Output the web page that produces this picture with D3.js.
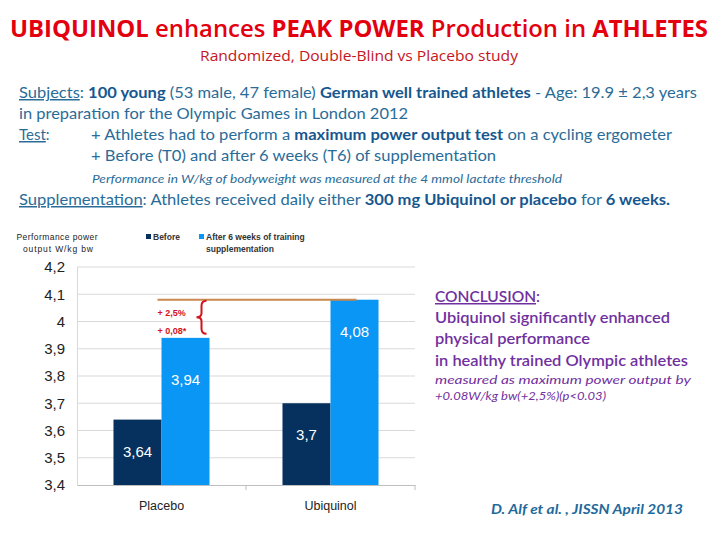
<!DOCTYPE html>
<html><head><meta charset="utf-8">
<script src="https://cdn.jsdelivr.net/npm/d3@7"></script>
<style>
html,body{margin:0;padding:0;background:#fff;}
svg{display:block;}
</style></head>
<body>
<svg id="c" width="720" height="540"></svg>
<script>
const categories = ["Placebo", "Ubiquinol"];
const seriesNames = ["Before", "After 6 weeks of training supplementation"];
const beforeValues = [3.64, 3.70];
const afterValues = [3.94, 4.08];
const valueLabels = [["3,64", "3,94"], ["3,7", "4,08"]];
const yTicks = [3.4, 3.5, 3.6, 3.7, 3.8, 3.9, 4.0, 4.1, 4.2];
const yTickLabels = ["3,4", "3,5", "3,6", "3,7", "3,8", "3,9", "4", "4,1", "4,2"];
const diffLabels = ["+ 2,5%", "+ 0,08*"];

const svg = d3.select("#c");
const body = "'Lato','Open Sans',sans-serif";
const blue = "#2a6c98", blueB = "#16578f";

function line(x, y, parts, opts) {
  const t = svg.append("text").attr("x", x).attr("y", y)
    .attr("font-family", opts.font || body).attr("font-size", opts.size)
    .attr("fill", opts.fill || blue);
  if (opts.len) t.attr("textLength", opts.len).attr("lengthAdjust", "spacingAndGlyphs");
  if (opts.anchor) t.attr("text-anchor", opts.anchor);
  if (opts.italic) t.attr("font-style", "italic");
  if (opts.weight) t.attr("font-weight", opts.weight);
  parts.forEach(p => {
    const s = t.append("tspan").text(p[0]);
    if (p[1] && p[1].b) s.attr("font-weight", "bold");
    if (p[1] && p[1].u) s.attr("text-decoration", "underline");
    if (p[1] && p[1].fill) s.attr("fill", p[1].fill);
  });
  return t;
}

// Title
line(10, 37, [["UBIQUINOL ", {b:1}], ["enhances "], ["PEAK POWER ", {b:1}], ["Production in "], ["ATHLETES", {b:1}]],
  {size: 24, fill: "#e3000f", len: 698, font: "'Open Sans',sans-serif", weight: 600});
line(200, 61, [["Randomized, Double-Blind vs Placebo study"]], {size: 15, fill: "#c4161c", len: 318, font: "'Open Sans',sans-serif"});

// Body text
line(19, 98, [["Subjects", {u:1}], [": "], ["100 young", {b:1, fill: blueB}], [" (53 male, 47 female) "], ["German well trained athletes", {b:1, fill: blueB}], [" - Age: 19.9 ± 2,3 years"]], {size: 15, len: 678});
line(19, 119, [["in preparation for the Olympic Games in London 2012"]], {size: 15, len: 389});
line(19, 140, [["Test", {u:1}], [":"]], {size: 15});
line(91, 140, [["+ Athletes had to perform a "], ["maximum power output test", {b:1, fill: blueB}], [" on a cycling ergometer"]], {size: 15, len: 581});
line(91, 161, [["+ Before (T0) and after 6 weeks (T6) of supplementation"]], {size: 15, len: 405});
line(92, 183, [["Performance in W/kg of bodyweight was measured at the 4 mmol lactate threshold"]], {size: 12, len: 470, italic: 1});
line(19, 205, [["Supplementation", {u:1}], [": Athletes received daily either "], ["300 mg Ubiquinol or placebo", {b:1, fill: blueB}], [" for "], ["6 weeks.", {b:1, fill: blueB}]], {size: 15, len: 651});

// Chart
const margin = {left: 77, right: 415, top: 267, bottom: 485};
const y = d3.scaleLinear().domain([3.4, 4.2]).range([margin.bottom, margin.top]);
const x0 = d3.scaleBand().domain(categories).range([margin.left, margin.right]).paddingInner(0).paddingOuter(0);
const x1 = d3.scaleBand().domain([0, 1]).range([0, x0.bandwidth()]).paddingOuter(0.76).paddingInner(0);

const chart = svg.append("g");
// gridlines
chart.append("g").selectAll("line").data(yTicks.slice(1)).join("line")
  .attr("x1", margin.left).attr("x2", margin.right)
  .attr("y1", d => y(d)).attr("y2", d => y(d))
  .attr("stroke", "#d9d9d9").attr("stroke-width", 1);

// y axis
const yAxis = d3.axisLeft(y).tickValues(yTicks).tickFormat((d, i) => yTickLabels[i]).tickSize(0).tickPadding(12);
const ya = chart.append("g").attr("transform", `translate(${margin.left},0)`).call(yAxis);
ya.select(".domain").attr("stroke", "#d9d9d9");
ya.selectAll("text").attr("font-family", "'Liberation Sans',Arial,sans-serif").attr("font-size", 15).attr("fill", "#222");

// x axis
const xAxis = d3.axisBottom(x0).tickSize(0).tickPadding(16);
const xa = chart.append("g").attr("transform", `translate(0,${margin.bottom})`).call(xAxis);
xa.select(".domain").attr("stroke", "#bfbfbf");
xa.selectAll("text").attr("font-family", "'Liberation Sans',Arial,sans-serif").attr("font-size", 12.5).attr("fill", "#222");
chart.append("g").selectAll("line").data(categories).join("line")
  .attr("x1", d => x0(d) + x0.bandwidth()).attr("x2", d => x0(d) + x0.bandwidth())
  .attr("y1", margin.bottom).attr("y2", margin.bottom + 5).attr("stroke", "#bfbfbf");

const barColors = ["#06305e", "#0a96f5"];
const rows = categories.map((c, i) => ({c, vals: [beforeValues[i], afterValues[i]], labels: valueLabels[i]}));
const groups = chart.append("g").selectAll("g").data(rows).join("g")
  .attr("transform", d => `translate(${x0(d.c)},0)`);
groups.selectAll("rect").data(d => d.vals.map((v, j) => ({v, j}))).join("rect")
  .attr("x", d => x1(d.j)).attr("width", x1.bandwidth())
  .attr("y", d => y(d.v)).attr("height", d => y(3.4) - y(d.v))
  .attr("fill", d => barColors[d.j]);
groups.selectAll("text.vl").data(d => d.vals.map((v, j) => ({v, j, l: d.labels[j]}))).join("text")
  .attr("class", "vl")
  .attr("x", d => x1(d.j) + x1.bandwidth() / 2)
  .attr("y", d => y(d.v) + 37 + (d.v > 3.9 && d.v < 4 ? 10 : 0))
  .attr("text-anchor", "middle")
  .attr("font-family", "'Liberation Sans',Arial,sans-serif").attr("font-size", 15)
  .attr("fill", "#fff").text(d => d.l);

// reference line at Ubiquinol after value
const lineY = y(afterValues[1]);
const lx1 = x0("Placebo") + x1(1) - 4;
const lx2 = x0("Ubiquinol") + x1(1) + x1.bandwidth() / 2 + 2;
chart.append("line").attr("x1", lx1).attr("x2", lx2).attr("y1", lineY).attr("y2", lineY)
  .attr("stroke", "#c9884e").attr("stroke-width", 2);

// brace
const bTop = lineY + 1, bBot = y(afterValues[0]) - 4;
const bx = lx1 + 44, bm = (bTop + bBot) / 2;
chart.append("path")
  .attr("d", `M${bx + 5},${bTop} Q${bx},${bTop} ${bx},${bTop + 5} L${bx},${bm - 4} Q${bx},${bm} ${bx - 5},${bm} Q${bx},${bm} ${bx},${bm + 4} L${bx},${bBot - 5} Q${bx},${bBot} ${bx + 5},${bBot}`)
  .attr("fill", "none").attr("stroke", "#d4121a").attr("stroke-width", 2);
chart.append("g").selectAll("text").data(diffLabels).join("text")
  .attr("x", lx1).attr("y", (d, i) => bTop + 15 + i * 18)
  .attr("font-family", "'Liberation Sans',Arial,sans-serif").attr("font-size", 9).attr("font-weight", "bold")
  .attr("fill", "#d4121a").text(d => d);

// legend
const lg = svg.append("g").attr("font-family", "'Liberation Sans',Arial,sans-serif").attr("font-size", 8.5).attr("font-weight", "bold").attr("fill", "#333");
const legendX = [146, 199];
seriesNames.forEach((n, i) => {
  lg.append("rect").attr("x", legendX[i]).attr("y", 234).attr("width", 5).attr("height", 5).attr("fill", barColors[i]);
});
lg.append("text").attr("x", 153).attr("y", 240).text(seriesNames[0]);
lg.append("text").attr("x", 206).attr("y", 240).text("After 6 weeks of training");
lg.append("text").attr("x", 206).attr("y", 252).text("supplementation");

// y title
const yt = svg.append("g").attr("font-family", "'Liberation Sans',Arial,sans-serif").attr("font-size", 8.5).attr("fill", "#222").attr("text-anchor", "middle");
yt.append("text").attr("x", 57).attr("y", 240).attr("textLength", 81).attr("lengthAdjust", "spacing").text("Performance power");
yt.append("text").attr("x", 58).attr("y", 252).attr("textLength", 70).attr("lengthAdjust", "spacing").text("output W/kg bw");

// conclusion
const purple = "#7030a0";
line(435, 302, [["CONCLUSION", {u:1}], [":"]], {size: 15, fill: purple, len: 105, weight: 600});
line(435, 323, [["Ubiquinol significantly enhanced"]], {size: 15, fill: purple, len: 235, weight: 600});
line(435, 344, [["physical performance"]], {size: 15, fill: purple, len: 155, weight: 600});
line(435, 366, [["in healthy trained Olympic athletes"]], {size: 15, fill: purple, len: 253, weight: 600});
line(435, 384, [["measured as maximum power output by"]], {size: 12, fill: purple, italic: 1, len: 256});
line(435, 400, [["+0.08W/kg bw(+2,5%)(p<0.03)"]], {size: 12, fill: purple, italic: 1, len: 171});

// citation
line(491, 514, [["D. Alf et al. , JISSN April 2013"]], {size: 13.5, fill: "#1f6a9c", italic: 1, len: 192, weight: "bold"});
</script>
</body></html>
